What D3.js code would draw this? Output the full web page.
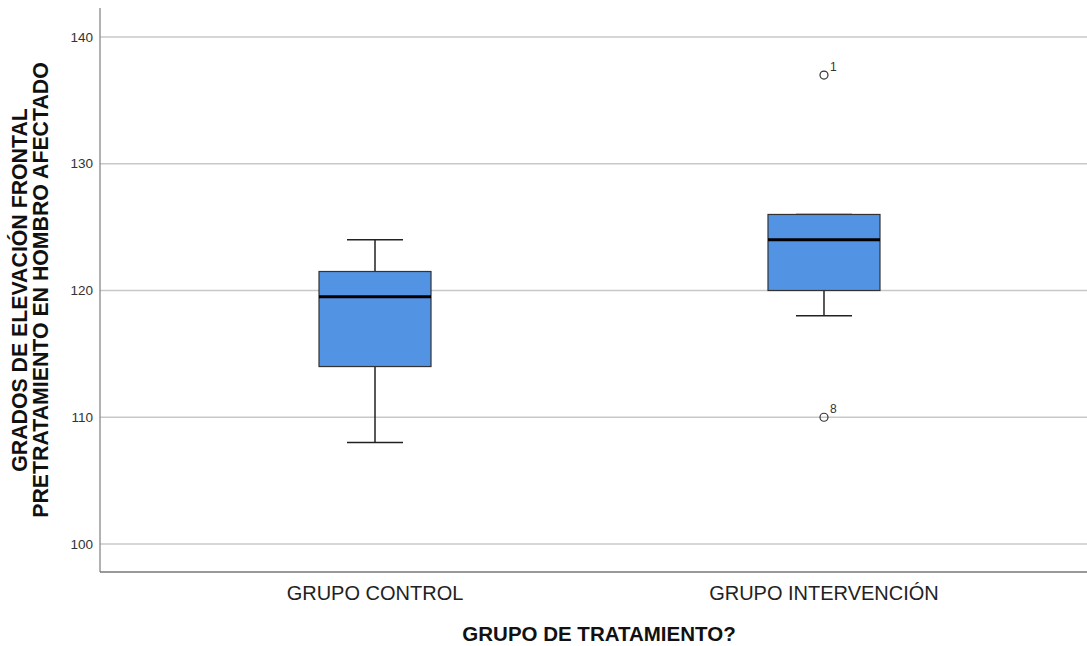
<!DOCTYPE html>
<html><head><meta charset="utf-8">
<script src="https://cdn.jsdelivr.net/npm/d3@7"></script>
<style>body{margin:0;background:#fff}svg{display:block}</style>
</head><body>
<svg id="c" width="1087" height="646"></svg>
<script>
const categories = ["GRUPO CONTROL", "GRUPO INTERVENCIÓN"];
const whiskerLow = [108, 118];
const q1 = [114, 120];
const median = [119.5, 124];
const q3 = [121.5, 126];
const whiskerHigh = [124, 126];
const outliers = [
  {group: "GRUPO INTERVENCIÓN", value: 137, label: "1"},
  {group: "GRUPO INTERVENCIÓN", value: 110, label: "8"}
];
const yTicks = [100, 110, 120, 130, 140];
const yTitle = ["GRADOS DE ELEVACIÓN FRONTAL", "PRETRATAMIENTO EN HOMBRO AFECTADO"];
const xTitle = "GRUPO DE TRATAMIENTO?";

(function(){
const svg = d3.select("#c");
const pLeft = 100, pRight = 1099, pTop = 8, pBottom = 572;
const y = d3.scaleLinear().domain([97.79, 142.29]).range([pBottom, pTop]);
const x = d3.scalePoint().domain(categories).range([pLeft, pRight]).padding(0.6125);
const boxHalf = 56, capHalf = 28;

// gridlines
svg.append("g").selectAll("line").data(yTicks).join("line")
  .attr("x1", pLeft).attr("x2", 1087)
  .attr("y1", d => y(d)).attr("y2", d => y(d))
  .attr("stroke", "#c8c8c8").attr("stroke-width", 1.3);

// y tick labels
svg.append("g").selectAll("text").data(yTicks).join("text")
  .attr("x", 93).attr("y", d => y(d)).attr("dy", "0.35em")
  .attr("text-anchor", "end")
  .attr("font-family", "Liberation Sans, Arial, sans-serif")
  .attr("font-size", 13.5).attr("fill", "#333")
  .text(d => d);

// axes lines
svg.append("line").attr("x1", pLeft).attr("x2", pLeft).attr("y1", pTop).attr("y2", pBottom)
  .attr("stroke", "#888").attr("stroke-width", 1.3);
svg.append("line").attr("x1", pLeft).attr("x2", 1087).attr("y1", pBottom).attr("y2", pBottom)
  .attr("stroke", "#777").attr("stroke-width", 1.3);

const g = svg.append("g");
categories.forEach((c, i) => {
  const cx = x(c);
  const s = "#222";
  g.append("line").attr("x1", cx).attr("x2", cx).attr("y1", y(whiskerHigh[i])).attr("y2", y(q3[i])).attr("stroke", s).attr("stroke-width", 1.5);
  g.append("line").attr("x1", cx).attr("x2", cx).attr("y1", y(q1[i])).attr("y2", y(whiskerLow[i])).attr("stroke", s).attr("stroke-width", 1.5);
  g.append("line").attr("x1", cx - capHalf).attr("x2", cx + capHalf).attr("y1", y(whiskerHigh[i])).attr("y2", y(whiskerHigh[i])).attr("stroke", s).attr("stroke-width", 1.5);
  g.append("line").attr("x1", cx - capHalf).attr("x2", cx + capHalf).attr("y1", y(whiskerLow[i])).attr("y2", y(whiskerLow[i])).attr("stroke", s).attr("stroke-width", 1.5);
  g.append("rect").attr("x", cx - boxHalf).attr("width", 2 * boxHalf)
    .attr("y", y(q3[i])).attr("height", y(q1[i]) - y(q3[i]))
    .attr("fill", "#5293e4").attr("stroke", "#333").attr("stroke-width", 1.2);
  g.append("line").attr("x1", cx - boxHalf).attr("x2", cx + boxHalf).attr("y1", y(median[i])).attr("y2", y(median[i]))
    .attr("stroke", "#000").attr("stroke-width", 3);
});

// outliers
const og = svg.append("g");
og.selectAll("circle").data(outliers).join("circle")
  .attr("cx", d => x(d.group)).attr("cy", d => y(d.value)).attr("r", 4)
  .attr("fill", "none").attr("stroke", "#333").attr("stroke-width", 1.2);
og.selectAll("text").data(outliers).join("text")
  .attr("x", d => x(d.group) + 6).attr("y", d => y(d.value) - 4)
  .attr("font-family", "Liberation Sans, Arial, sans-serif")
  .attr("font-size", 12).attr("fill", "#333")
  .text(d => d.label);

// x category labels
svg.append("g").selectAll("text").data(categories).join("text")
  .attr("x", d => x(d)).attr("y", 600)
  .attr("text-anchor", "middle")
  .attr("font-family", "Liberation Sans Narrow, Liberation Sans, Arial, sans-serif")
  .attr("font-size", 20).attr("fill", "#222")
  .text(d => d);

// x title
svg.append("text").attr("x", 599).attr("y", 641).attr("text-anchor", "middle")
  .attr("font-family", "Liberation Sans Narrow, Liberation Sans, Arial, sans-serif")
  .attr("font-weight", "bold").attr("font-size", 20.5).attr("fill", "#111")
  .text(xTitle);

// y title
const yt = svg.append("text").attr("transform", "translate(0,290) rotate(-90)")
  .attr("text-anchor", "middle")
  .attr("font-family", "Liberation Sans, Arial, sans-serif")
  .attr("font-weight", "bold").attr("font-size", 21.3).attr("fill", "#111");
yTitle.forEach((t, i) => {
  yt.append("tspan").attr("x", 0).attr("y", 27 + i * 21).text(t);
});
})();
</script>
</body></html>
